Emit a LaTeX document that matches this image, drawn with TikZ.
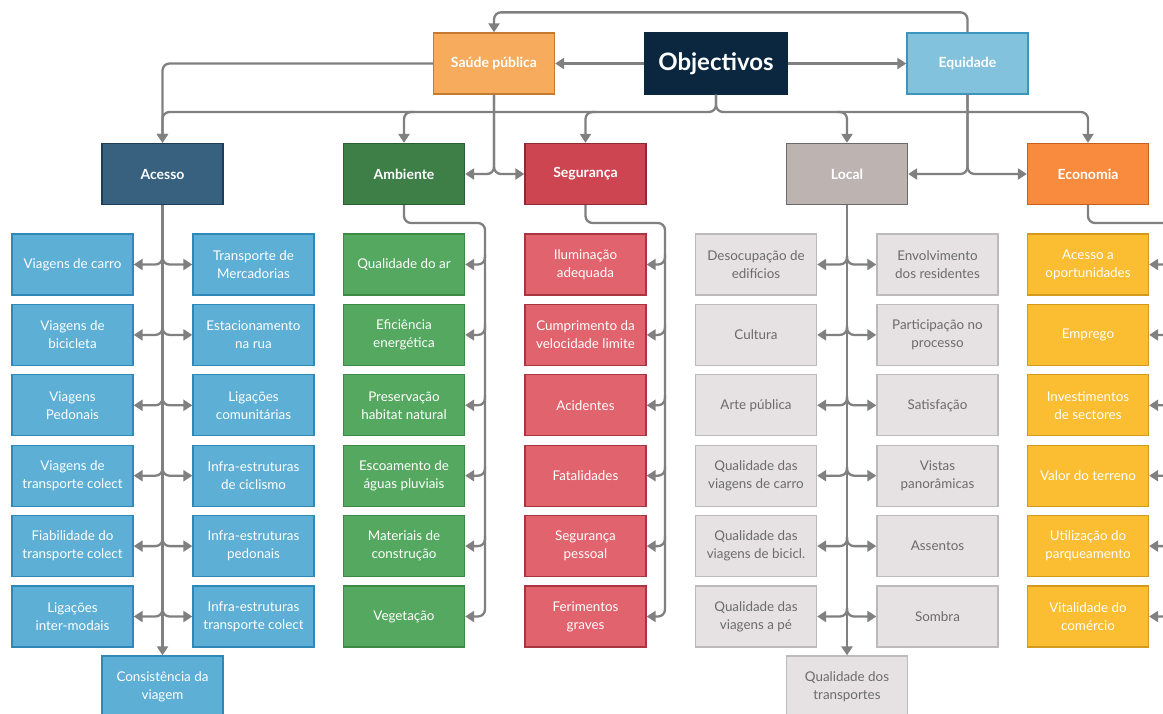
\documentclass[tikz,border=0pt]{standalone}
\usepackage{fontspec}
\setmainfont{Lato}
\usetikzlibrary{arrows.meta,calc}
\definecolor{lineg}{HTML}{808080}
\definecolor{objf}{HTML}{0B2740}
\definecolor{sauf}{HTML}{F6AB5D}\definecolor{saud}{HTML}{C47A30}
\definecolor{equf}{HTML}{82C2DC}\definecolor{equd}{HTML}{3D94BD}
\definecolor{accf}{HTML}{386180}\definecolor{accd}{HTML}{1E3E58}
\definecolor{ambf}{HTML}{3E7E47}\definecolor{ambd}{HTML}{2A5F31}
\definecolor{segf}{HTML}{CC4550}\definecolor{segd}{HTML}{8E2A33}
\definecolor{locf}{HTML}{BDB4B2}\definecolor{locd}{HTML}{6A6A6A}
\definecolor{ecof}{HTML}{F98B3F}\definecolor{ecod}{HTML}{C75F1C}
\definecolor{accc}{HTML}{5DAFD6}\definecolor{acccd}{HTML}{2E88B8}
\definecolor{ambc}{HTML}{55A860}\definecolor{ambcd}{HTML}{3C8A46}
\definecolor{segc}{HTML}{E0636D}\definecolor{segcd}{HTML}{A8353F}
\definecolor{locc}{HTML}{E6E2E4}\definecolor{loccd}{HTML}{BDBABB}
\definecolor{loct}{HTML}{6B6B6B}
\definecolor{ecoc}{HTML}{FBBD32}\definecolor{ecocd}{HTML}{D29A1C}
\begin{document}
\begin{tikzpicture}[x=1pt,y=-1pt,
  box/.style={rectangle, minimum width=121pt, minimum height=61pt, line width=1.3pt,
    align=center, inner sep=2pt, font=\fontsize{13.4}{18}\selectfont},
  hdr/.style={box, font=\fontsize{14}{16}\selectfont\bfseries, text=white},
  accbox/.style={box, fill=accc, draw=acccd, text=white},
  ambbox/.style={box, fill=ambc, draw=ambcd, text=white},
  segbox/.style={box, fill=segc, draw=segcd, text=white},
  locbox/.style={box, fill=locc, draw=loccd, text=loct},
  ecobox/.style={box, fill=ecoc, draw=ecocd, text=white},
  conn/.style={draw=lineg, line width=2.3pt, rounded corners=7pt},
  arr/.style={-{Triangle[length=9pt,width=11pt]}}]
\useasboundingbox (0,0) rectangle (1163,713);
\clip (0,0) rectangle (1163,713);
% top nodes
\node[box, minimum width=142pt, fill=objf, draw=objf, text=white,
  font=\fontsize{24}{28}\selectfont\bfseries] (obj) at (716,63.5) {Objectivos};
\node[hdr, fill=sauf, draw=saud] (sau) at (494,63.5) {Saúde pública};
\node[hdr, fill=equf, draw=equd] (equ) at (967.5,63.5) {Equidade};
% headers
\node[hdr, fill=accf, draw=accd] (acc) at (162.5,174) {Acesso};
\node[hdr, fill=ambf, draw=ambd] (amb) at (404,174) {Ambiente};
\node[hdr, fill=segf, draw=segd] (seg) at (585.5,174) {Segurança};
\node[hdr, fill=locf, draw=locd] (loc) at (847,174) {Local};
\node[hdr, fill=ecof, draw=ecod] (eco) at (1088,174) {Economia};
% children
\foreach \t [count=\i] in {{Viagens de carro},{Viagens de\\bicicleta},{Viagens\\Pedonais},{Viagens de\\transporte colect},{Fiabilidade do\\transporte colect},{Ligações\\inter-modais}}
  \node[accbox] (al\i) at (72.5,{264.5+70.4*(\i-1)}) {\t};
\foreach \t [count=\i] in {{Transporte de\\Mercadorias},{Estacionamento\\na rua},{Ligações\\comunitárias},{Infra-estruturas\\de ciclismo},{Infra-estruturas\\pedonais},{Infra-estruturas\\transporte colect}}
  \node[accbox] (ar\i) at (253.5,{264.5+70.4*(\i-1)}) {\t};
\node[accbox] (acb) at (162.5,686.5) {Consistência da\\viagem};
\foreach \t [count=\i] in {{Qualidade do ar},{Eficiência\\energética},{Preservação\\habitat natural},{Escoamento de\\águas pluviais},{Materiais de\\construção},{Vegetação}}
  \node[ambbox] (am\i) at (404,{264.5+70.4*(\i-1)}) {\t};
\foreach \t [count=\i] in {{Iluminação\\adequada},{Cumprimento da\\velocidade limite},{Acidentes},{Fatalidades},{Segurança\\pessoal},{Ferimentos\\graves}}
  \node[segbox] (sg\i) at (585.5,{264.5+70.4*(\i-1)}) {\t};
\foreach \t [count=\i] in {{Desocupação de\\edifícios},{Cultura},{Arte pública},{Qualidade das\\viagens de carro},{Qualidade das\\viagens de bicicl.},{Qualidade das\\viagens a pé}}
  \node[locbox] (ll\i) at (756,{264.5+70.4*(\i-1)}) {\t};
\foreach \t [count=\i] in {{Envolvimento\\dos residentes},{Participação no\\processo},{Satisfação},{Vistas\\panorâmicas},{Assentos},{Sombra}}
  \node[locbox] (lr\i) at (937.5,{264.5+70.4*(\i-1)}) {\t};
\node[locbox] (lcb) at (847,686.5) {Qualidade dos\\transportes};
\foreach \t [count=\i] in {{Acesso a\\oportunidades},{Emprego},{Investimentos\\de sectores},{Valor do terreno},{Utilização do\\parqueamento},{Vitalidade do\\comércio}}
  \node[ecobox] (ec\i) at (1088,{264.5+70.4*(\i-1)}) {\t};
% top connectors
\draw[conn,arr] (obj.west) -- (sau.east);
\draw[conn,arr] (obj.east) -- (equ.west);
\draw[conn,arr] (equ.north) -- ++(0,-20) -| (sau.north);
\draw[conn,arr] (sau.west) -| (acc.north);
\draw[conn,arr] (sau.south) |- (amb.east);
\draw[conn,arr] (sau.south) |- (seg.west);
\draw[conn,arr] (equ.south) |- (loc.east);
\draw[conn,arr] (equ.south) |- (eco.west);
\coordinate (bus) at (716,112);
\draw[conn,arr] (obj.south) |- (bus -| acc.north) -- (acc.north);
\draw[conn,arr] (obj.south) |- (bus -| eco.north) -- (eco.north);
\draw[conn,arr] ([xshift=10pt]bus -| amb.north) -| (amb.north);
\draw[conn,arr] ([xshift=10pt]bus -| seg.north) -| (seg.north);
\draw[conn,arr] ([xshift=-10pt]bus -| loc.north) -| (loc.north);
% Acesso
\draw[conn,arr] (acc.south) -- (acb.north);
\foreach \i in {1,...,6} {
  \draw[conn,arr] ([yshift=9pt]al\i.east -| acc.south) |- (al\i.east);
  \draw[conn,arr] ([yshift=9pt]ar\i.west -| acc.south) |- (ar\i.west);
}
% Local
\draw[conn,arr] (loc.south) -- (lcb.north);
\foreach \i in {1,...,6} {
  \draw[conn,arr] ([yshift=9pt]ll\i.east -| loc.south) |- (ll\i.east);
  \draw[conn,arr] ([yshift=9pt]lr\i.west -| loc.south) |- (lr\i.west);
}
% Ambiente
\coordinate (ambR) at (485,223);
\draw[conn,arr] (amb.south) |- (ambR) |- (am6.east);
\foreach \i in {1,...,5}
  \draw[conn,arr] ([yshift=10pt]am\i.east -| ambR) |- (am\i.east);
% Seguranca
\coordinate (segR) at (665,223);
\draw[conn,arr] (seg.south) |- (segR) |- (sg6.east);
\foreach \i in {1,...,5}
  \draw[conn,arr] ([yshift=10pt]sg\i.east -| segR) |- (sg\i.east);
% Economia
\coordinate (ecoR) at (1178,223);
\draw[conn] (eco.south) |- (ecoR) -- (1178,713);
\foreach \i in {1,...,6}
  \draw[conn,arr] ([yshift=10pt]ec\i.east -| ecoR) |- (ec\i.east);
\end{tikzpicture}
\end{document}
